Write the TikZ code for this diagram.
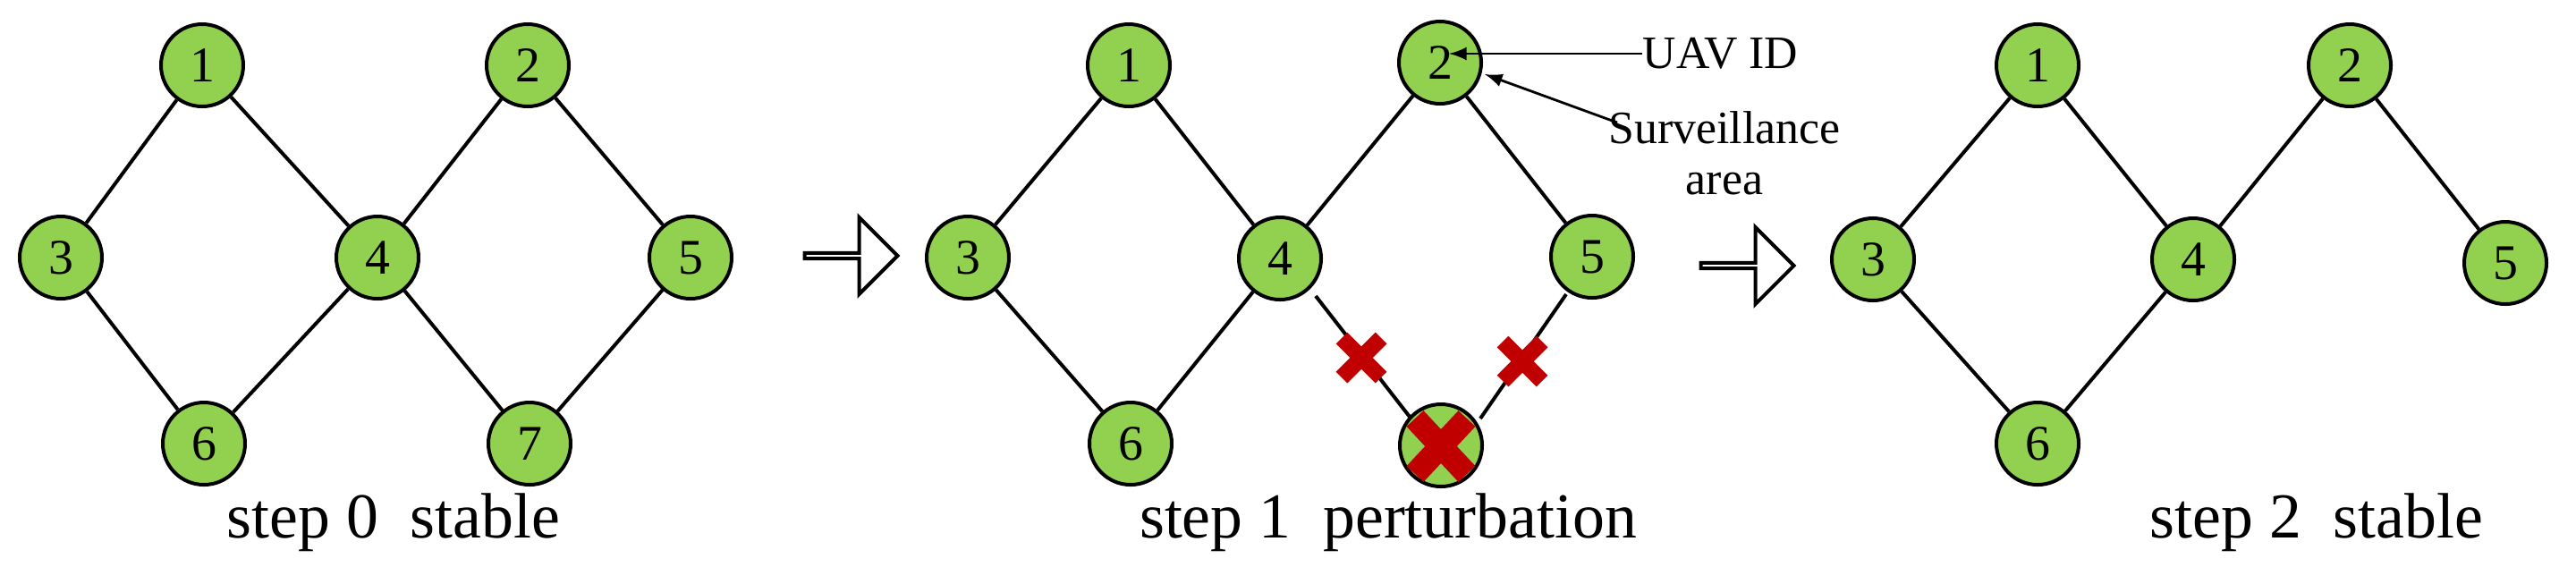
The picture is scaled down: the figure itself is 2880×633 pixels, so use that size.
\documentclass[tikz,border=0pt]{standalone}
\usepackage{fontspec}
\setmainfont{Liberation Serif}
\usetikzlibrary{shapes.arrows}
\definecolor{ng}{HTML}{92D050}
\definecolor{xr}{HTML}{C00000}
\begin{document}
\begin{tikzpicture}[x=0.25bp,y=-0.25bp,
 uav/.style={circle,draw=black,line width=1bp,fill=ng,minimum size=23bp,inner sep=0pt,font=\rmfamily\fontsize{14}{14}\selectfont},
 ed/.style={line width=1bp},
 steplab/.style={font=\rmfamily\fontsize{18}{18}\selectfont},
 lab/.style={font=\rmfamily\fontsize{13}{13}\selectfont,inner sep=0pt},
 big/.style={single arrow,draw=black,line width=1bp,fill=white,minimum height=26bp,minimum width=21.5bp,single arrow head extend=6.5bp,inner sep=0pt},
 xm/.style={xr,line width=4.5bp}]
\useasboundingbox (0,0) rectangle (2880,633);
% panel 1
\node[uav] (a1) at (226,73) {1};
\node[uav] (a2) at (590,73) {2};
\node[uav] (a3) at (68,288) {3};
\node[uav] (a4) at (422,288) {4};
\node[uav] (a5) at (772,288) {5};
\node[uav] (a6) at (228,496) {6};
\node[uav] (a7) at (592,496) {7};
\draw[ed] (a1)--(a3) (a1)--(a4) (a3)--(a6) (a6)--(a4) (a4)--(a2) (a2)--(a5) (a4)--(a7) (a7)--(a5);
\node[steplab] (c1) at (440,584) {step 0\ \ stable};
\node[big] (ar1) at (950,286) {};
% panel 2
\node[uav] (b1) at (1262,73) {1};
\node[uav] (b2) at (1610,70) {2};
\node[uav] (b3) at (1082,288) {3};
\node[uav] (b4) at (1431,289) {4};
\node[uav] (b5) at (1780,287) {5};
\node[uav] (b6) at (1264,496) {6};
\node[uav] (b7) at (1611,498) {};
\draw[ed] (b1)--(b3) (b1)--(b4) (b3)--(b6) (b6)--(b4) (b4)--(b2) (b2)--(b5);
\coordinate (p1) at (1471,331); \coordinate (p2) at (1576,466);
\coordinate (q1) at (1655,468); \coordinate (q2) at (1751,329);
\draw[ed] (p1)--(p2) (q1)--(q2);
\draw[xm] (1500,378)--(1544,422) (1500,422)--(1544,378);
\draw[xm] (1680,382)--(1724,426) (1680,426)--(1724,382);
\draw[xr,line width=6.5bp] (1582,468)--(1640,530) (1582,530)--(1640,468);
\node[lab,anchor=west] (uid) at (1836,60) {UAV ID};
\draw[line width=0.7bp,-latex] (uid.west)--(1620,60);
\node[lab] (surv) at (1928,143) {Surveillance};
\node[lab] (area) at (1928,206) {area};
\draw[line width=0.7bp,-latex] (1808,137)--(1660,83);
\node[steplab] (c2) at (1552,584) {step 1\ \ perturbation};
\node[big] (ar2) at (1952,297) {};
% panel 3
\node[uav] (d1) at (2278,73) {1};
\node[uav] (d2) at (2627,73) {2};
\node[uav] (d3) at (2094,290) {3};
\node[uav] (d4) at (2452,290) {4};
\node[uav] (d5) at (2801,294) {5};
\node[uav] (d6) at (2278,496) {6};
\draw[ed] (d1)--(d3) (d1)--(d4) (d3)--(d6) (d6)--(d4) (d4)--(d2) (d2)--(d5);
\node[steplab] (c3) at (2590,584) {step 2\ \ stable};
\end{tikzpicture}
\end{document}
